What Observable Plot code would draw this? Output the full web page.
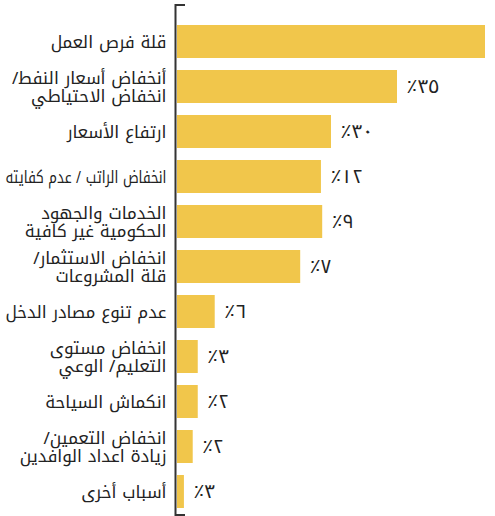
<!DOCTYPE html>
<html>
<head>
<meta charset="utf-8">
<script src="https://cdn.jsdelivr.net/npm/d3@7"></script>
<script src="https://cdn.jsdelivr.net/npm/@observablehq/plot@0.6"></script>
<style>
  html, body { margin: 0; padding: 0; background: #fff; }
  #chart { width: 495px; height: 516px; overflow: hidden; }
</style>
</head>
<body>
<div id="chart"></div>
<script>
const RLM = "\u200F";
const categories = [
  "قلة فرص العمل",
  "أنخفاض أسعار النفط/" + RLM + "\nانخفاض الاحتياطي",
  "ارتفاع الأسعار",
  "انخفاض الراتب / عدم كفايته",
  "الخدمات والجهود\nالحكومية غير كافية",
  "انخفاض الاستثمار/" + RLM + "\nقلة المشروعات",
  "عدم تنوع مصادر الدخل",
  "انخفاض مستوى\nالتعليم/ الوعي",
  "انكماش السياحة",
  "انخفاض التعمين/" + RLM + "\nزيادة اعداد الوافدين",
  "أسباب أخرى"
];
// bar lengths as drawn in the reference (not proportional to the printed labels)
const barValues = [49, 35, 24.5, 22.9, 23.1, 19.6, 6.0, 3.3, 3.3, 2.5, 1.1];
const valueLabels = ["٪٤٩", "٪٣٥", "٪٣٠", "٪١٢", "٪٩", "٪٧", "٪٦", "٪٣", "٪٢", "٪٢", "٪٣"];

const data = categories.map((c, i) => ({category: c, value: barValues[i], label: valueLabels[i]}));

const bracket = (index, scales, values, dimensions) => {
  const x0 = scales.x(0) - 1.5;
  const top = dimensions.marginTop;
  const bottom = dimensions.height - dimensions.marginBottom;
  const p = document.createElementNS("http://www.w3.org/2000/svg", "path");
  p.setAttribute("d", `M${x0 + 9.5},${top}H${x0}V${bottom}H${x0 + 9.5}`);
  p.setAttribute("fill", "none");
  p.setAttribute("stroke", "#333");
  p.setAttribute("stroke-width", "2");
  return p;
};

const chart = Plot.plot({
  width: 495,
  height: 516,
  marginLeft: 177,
  marginRight: 10,
  marginTop: 5,
  marginBottom: 1,
  style: {background: "#fff", fontFamily: "'Noto Kufi Arabic', 'DejaVu Sans'", overflow: "hidden"},
  x: {domain: [0, 49], range: [177, 485], axis: null},
  y: {domain: categories, range: [24, 508], paddingInner: 0.27, paddingOuter: 0, axis: null},
  marks: [
    Plot.barX(data, {x: "value", y: "category", fill: "#F1C64B"}),
    Plot.text(data, {x: 0, y: "category", text: "category", textAnchor: "end", dx: -11, fontSize: 17, lineHeight: 1.08, fill: "#222"}),
    Plot.text(data, {x: "value", y: "category", text: "label", textAnchor: "start", dx: 9, fontSize: 19, fill: "#222"}),
    bracket
  ]
});
document.getElementById("chart").appendChild(chart);

// fit over-long category lines into the space left of the axis
const labelGroup = chart.querySelectorAll('g[aria-label="text"]')[0];
if (labelGroup) {
  const maxW = 161;
  labelGroup.querySelectorAll("text").forEach(t => {
    const parts = t.querySelectorAll("tspan");
    const lines = parts.length ? Array.from(parts) : [t];
    lines.forEach(el => {
      if (el.getComputedTextLength() > maxW) {
        el.setAttribute("textLength", maxW);
        el.setAttribute("lengthAdjust", "spacingAndGlyphs");
      }
    });
  });
}
</script>
</body>
</html>
